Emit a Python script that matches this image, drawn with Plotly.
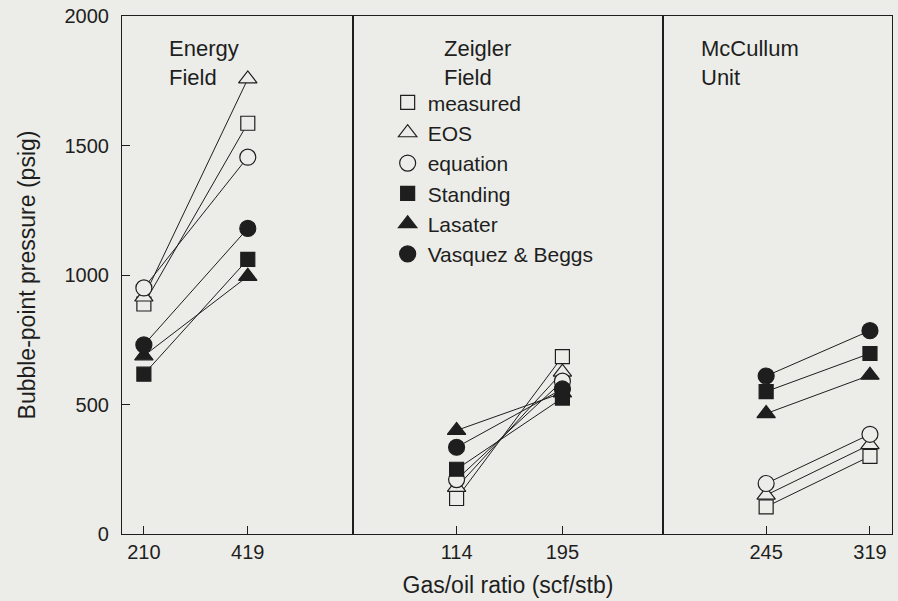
import plotly.graph_objects as go
from plotly.subplots import make_subplots

# ---- data ----
fields = ["Energy<br>Field", "Zeigler<br>Field", "McCullum<br>Unit"]
gor_energy = [210, 419]
gor_zeigler = [114, 195]
gor_mccullum = [245, 319]

methods = ["measured", "EOS", "equation", "Standing", "Lasater", "Vasquez & Beggs"]
# bubble-point pressure (psig): [Energy 210, 419, Zeigler 114, 195, McCullum 245, 319]
measured = [888, 1586, 137, 685, 105, 300]
eos = [915, 1757, 180, 625, 150, 345]
equation = [950, 1455, 210, 590, 195, 385]
standing = [617, 1060, 250, 525, 550, 697]
lasater = [688, 995, 400, 545, 465, 613]
vasquez_beggs = [730, 1180, 335, 560, 610, 785]

y_ticks = [0, 500, 1000, 1500, 2000]

# ---- style ----
BG = "#ECEDE8"
INK = "#1e1e1e"
FONT = "Liberation Sans, Arial, Helvetica, sans-serif"
series = [measured, eos, equation, standing, lasater, vasquez_beggs]
symbols = ["square", "triangle-up", "circle", "square", "triangle-up", "circle"]
filled = [False, False, False, True, True, True]
sizes = [14, 16, 16, 14, 16, 16]

fig = make_subplots(rows=1, cols=3, shared_yaxes=True, horizontal_spacing=0,
                    column_widths=[231, 311, 229])

gors = [gor_energy, gor_zeigler, gor_mccullum]
for name, vals, sym, fl, sz in zip(methods, series, symbols, filled, sizes):
    marker = dict(symbol=sym, size=sz, color=INK if fl else BG,
                  line=dict(color=INK, width=1.2))
    for p in range(3):
        fig.add_trace(go.Scatter(
            x=gors[p], y=vals[2 * p:2 * p + 2], mode="lines+markers",
            line=dict(color=INK, width=1), marker=marker,
            showlegend=False, name=name), row=1, col=p + 1)
    # legend-only entry (markers only, like the reference key)
    fig.add_trace(go.Scatter(x=[None], y=[None], mode="markers", name=name,
                             marker=marker, showlegend=True), row=1, col=2)

x_ranges = [[166, 630], [34.5, 272.2], [171.7, 334.7]]
for p in range(3):
    fig.update_xaxes(row=1, col=p + 1, range=x_ranges[p], tickvals=gors[p],
                     ticktext=[str(v) for v in gors[p]], ticks="inside", ticklen=8,
                     tickcolor=INK, showline=True, linecolor=INK, linewidth=1.2,
                     mirror=True, showgrid=False, zeroline=False, ticklabelstandoff=0,
                     tickfont=dict(family=FONT, size=20, color=INK))
fig.update_xaxes(row=1, col=2, title=dict(text="Gas/oil ratio (scf/stb)",
                 font=dict(family=FONT, size=23, color=INK), standoff=14))

for p in range(3):
    fig.update_yaxes(row=1, col=p + 1, range=[0, 2000], tickvals=y_ticks,
                     showline=True, linecolor=INK, linewidth=1.2, mirror=True,
                     showgrid=False, zeroline=False,
                     ticks="inside" if p == 0 else "", ticklen=8, tickcolor=INK,
                     showticklabels=(p == 0), ticklabelstandoff=8,
                     tickfont=dict(family=FONT, size=20, color=INK))
fig.update_yaxes(row=1, col=1, title=dict(text="Bubble-point pressure (psig)",
                 font=dict(family=FONT, size=23, color=INK), standoff=22))

# panel labels
label_x = [0.058, 0.416, 0.749]
for lx, txt in zip(label_x, fields):
    fig.add_annotation(text=txt, xref="paper", yref="paper", x=lx, y=0.966,
                       xanchor="left", yanchor="top", showarrow=False, align="left",
                       font=dict(family=FONT, size=22, color=INK))

fig.update_layout(
    width=898, height=601, paper_bgcolor=BG, plot_bgcolor=BG,
    margin=dict(l=122, r=5, t=14, b=67),
    legend=dict(x=0.345, y=0.872, xanchor="left", yanchor="top",
                bgcolor="rgba(0,0,0,0)", font=dict(family=FONT, size=21, color=INK),
                tracegroupgap=0, itemsizing="trace"),
)

fig.write_html("out.html", config={"displayModeBar": False},
               post_script="document.body.style.margin='0';"
                           "document.body.style.background='#ECEDE8';")
